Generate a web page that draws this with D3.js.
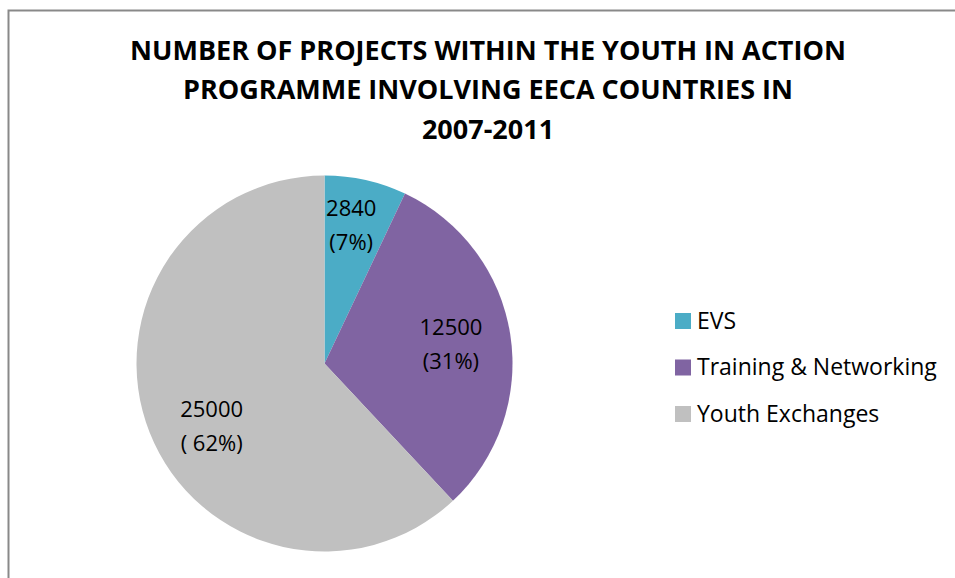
<!DOCTYPE html>
<html>
<head>
<meta charset="utf-8">
<script src="https://cdn.jsdelivr.net/npm/d3@7/dist/d3.min.js"></script>
<style>
  html, body { margin: 0; padding: 0; background: #fff; }
  svg { display: block; font-family: "Open Sans", "Liberation Sans", sans-serif; }
</style>
</head>
<body>
<svg id="chart" width="955" height="578"></svg>
<script>
const titleLines = ["NUMBER OF PROJECTS WITHIN THE YOUTH IN ACTION", "PROGRAMME INVOLVING EECA COUNTRIES IN", "2007-2011"];
const categories = ["EVS", "Training & Networking", "Youth Exchanges"];
const values = [2840, 12500, 25000];
const percentLabels = ["(7%)", "(31%)", "( 62%)"];
const colors = ["#4BACC6", "#8064A2", "#C0C0C0"];

// layout nudges for data labels (Excel best-fit placement)
const labelNudge = [[-2, -12], [-3, 0], [9, 13]];

const svg = d3.select("#chart");

// frame
svg.append("rect")
  .attr("x", 8.5).attr("y", 10.5)
  .attr("width", 1000).attr("height", 1000)
  .attr("fill", "none").attr("stroke", "#898989").attr("stroke-width", 2);

// title
const title = svg.append("text")
  .attr("text-anchor", "middle")
  .attr("font-weight", "bold")
  .attr("font-size", 27)
  .attr("fill", "#000");
titleLines.forEach((t, i) => {
  title.append("tspan").attr("x", 488).attr("y", 59.5 + i * 39.7).text(t);
});

const cx = 324.5, cy = 363.5, r = 188;
const g = svg.append("g").attr("transform", `translate(${cx},${cy})`);

const data = categories.map((c, i) => ({ name: c, value: values[i], pct: percentLabels[i], color: colors[i], i }));
const pie = d3.pie().sort(null).value(d => d.value).startAngle(0).endAngle(2 * Math.PI);
const arcs = pie(data);
const arc = d3.arc().innerRadius(0).outerRadius(r);
const labelArc = d3.arc().innerRadius(131).outerRadius(131);

g.selectAll("path.slice").data(arcs).enter().append("path")
  .attr("class", "slice")
  .attr("d", arc)
  .attr("fill", d => d.data.color);

const lbl = g.selectAll("text.lbl").data(arcs).enter().append("text")
  .attr("class", "lbl")
  .attr("text-anchor", "middle")
  .attr("font-size", 22)
  .attr("fill", "#000")
  .attr("transform", d => {
    const [x, y] = labelArc.centroid(d);
    const [nx, ny] = labelNudge[d.data.i];
    return `translate(${x + nx},${y + ny})`;
  });
lbl.append("tspan").attr("x", 0).attr("y", -8).text(d => d.data.value);
lbl.append("tspan").attr("x", 0).attr("y", 26).text(d => d.data.pct);

// legend
const legend = svg.append("g").attr("transform", "translate(675,321)");
const item = legend.selectAll("g").data(data).enter().append("g")
  .attr("transform", (d, i) => `translate(0,${i * 46.5})`);
item.append("rect").attr("x", 0).attr("y", -8).attr("width", 16).attr("height", 16).attr("fill", d => d.color);
item.append("text").attr("x", 22).attr("y", 7.5).attr("font-size", 23).attr("fill", "#000").text(d => d.name);
</script>
</body>
</html>
